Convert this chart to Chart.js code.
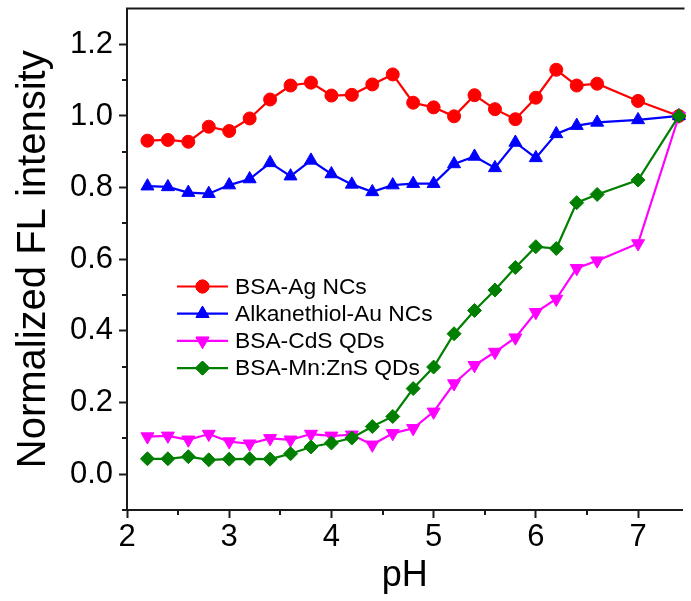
<!DOCTYPE html>
<html><head><meta charset="utf-8">
<script src="https://cdn.jsdelivr.net/npm/chart.js@4.4.0/dist/chart.umd.min.js"></script>
<style>html,body{margin:0;padding:0;background:#fff;}#wrap{width:691px;height:601px;}</style>
</head><body><div id="wrap"><canvas id="c" width="691" height="601"></canvas></div>
<script>
const phValues   = [2.2,2.4,2.6,2.8,3.0,3.2,3.4,3.6,3.8,4.0,4.2,4.4,4.6,4.8,5.0,5.2,5.4,5.6,5.8,6.0,6.2,6.4,6.6,7.0,7.4];
const bsaAgNCs   = [0.931,0.933,0.928,0.970,0.958,0.993,1.046,1.085,1.093,1.057,1.059,1.088,1.116,1.037,1.024,0.999,1.058,1.019,0.991,1.051,1.129,1.085,1.090,1.042,1.0];
const alkAuNCs   = [0.804,0.802,0.786,0.783,0.807,0.824,0.869,0.832,0.876,0.838,0.809,0.788,0.807,0.811,0.811,0.866,0.887,0.855,0.926,0.883,0.950,0.973,0.982,0.989,1.0];
const bsaCdSQDs  = [0.105,0.107,0.096,0.112,0.091,0.085,0.100,0.096,0.112,0.107,0.110,0.082,0.114,0.128,0.174,0.253,0.304,0.341,0.381,0.452,0.489,0.575,0.596,0.644,1.0];
const bsaMnZnSQDs= [0.043,0.043,0.049,0.040,0.042,0.043,0.042,0.057,0.076,0.087,0.101,0.133,0.161,0.239,0.299,0.392,0.457,0.514,0.577,0.635,0.630,0.758,0.781,0.821,1.0];
const seriesNames = ['BSA-Ag NCs','Alkanethiol-Au NCs','BSA-CdS QDs','BSA-Mn:ZnS QDs'];
const xTickLabels = ['2','3','4','5','6','7'];
const xMinorTicks = [2.5,3.5,4.5,5.5,6.5];
const yTickLabels = ['0.0','0.2','0.4','0.6','0.8','1.0','1.2'];
const yMinorTicks = [-0.1,0.1,0.3,0.5,0.7,0.9,1.1];

const FONT = "'Liberation Sans', Arial, Helvetica, sans-serif";
const AXIS = '#1a1a1a';
function pts(ys){ return phValues.map((x,i)=>({x:x, y:ys[i]})); }

const styles = [
  {color:'#ff0000', pointStyle:'circle',   radius:6.5, rotation:0},
  {color:'#0000ff', pointStyle:'triangle', radius:7.5, rotation:0},
  {color:'#ff00ff', pointStyle:'triangle', radius:7.5, rotation:180},
  {color:'#007f00', pointStyle:'rectRot',  radius:7,   rotation:0}
];
const seriesData = [bsaAgNCs, alkAuNCs, bsaCdSQDs, bsaMnZnSQDs];

const datasets = seriesData.map((d,i)=>({
  label: seriesNames[i],
  data: pts(d),
  borderColor: styles[i].color,
  backgroundColor: styles[i].color,
  pointBackgroundColor: styles[i].color,
  pointBorderColor: styles[i].color,
  pointBorderWidth: 1,
  borderWidth: 2.2,
  pointStyle: styles[i].pointStyle,
  pointRadius: styles[i].radius,
  pointRotation: styles[i].rotation,
  tension: 0,
  order: 3 - i,
  clip: 10
}));

function drawMarker(ctx, st, x, y){
  ctx.save();
  ctx.fillStyle = st.color; ctx.strokeStyle = st.color; ctx.lineWidth = 1;
  if (Chart.helpers && Chart.helpers.drawPoint) {
    Chart.helpers.drawPoint(ctx, {pointStyle: st.pointStyle, rotation: st.rotation, radius: st.radius, borderWidth: 1}, x, y);
    ctx.fill(); ctx.stroke();
  } else {
    ctx.beginPath(); ctx.arc(x,y,st.radius,0,Math.PI*2); ctx.fill();
  }
  ctx.restore();
}

const extras = {
  id: 'extras',
  afterDraw(chart){
    const ctx = chart.ctx, a = chart.chartArea;
    const xs = chart.scales.x, ys = chart.scales.y;
    ctx.save();
    ctx.strokeStyle = AXIS; ctx.lineWidth = 2;
    ctx.beginPath(); ctx.moveTo(a.left-1, a.top); ctx.lineTo(a.right+2, a.top); ctx.stroke();
    ctx.beginPath();
    xMinorTicks.forEach(v=>{ const px = Math.round(xs.getPixelForValue(v)); ctx.moveTo(px, a.bottom); ctx.lineTo(px, a.bottom+5); });
    yMinorTicks.forEach(v=>{ const py = Math.round(ys.getPixelForValue(v)); ctx.moveTo(a.left, py); ctx.lineTo(a.left-5, py); });
    ctx.stroke();
    // legend
    const lx0 = a.left + 50, lx1 = a.left + 101, tx = a.left + 108;
    const rowTop = a.top + 278, rowGap = 27.2;
    ctx.font = "22.8px " + FONT; ctx.textBaseline = 'middle'; ctx.textAlign = 'left';
    seriesNames.forEach((name,i)=>{
      const y = rowTop + i*rowGap;
      ctx.strokeStyle = styles[i].color; ctx.lineWidth = 2.2;
      ctx.beginPath(); ctx.moveTo(lx0, y); ctx.lineTo(lx1, y); ctx.stroke();
      drawMarker(ctx, styles[i], (lx0+lx1)/2, y);
      ctx.fillStyle = '#000';
      ctx.fillText(name, tx, y+1);
    });
    ctx.restore();
  }
};

new Chart(document.getElementById('c'), {
  type: 'line',
  data: { datasets: datasets },
  plugins: [extras],
  options: {
    responsive: false, animation: false, devicePixelRatio: 1,
    layout: { padding: { top: 7, right: 0, left: 0, bottom: 0 } },
    plugins: { legend: { display: false }, tooltip: { enabled: false } },
    scales: {
      x: {
        type: 'linear', min: 2, max: 7.435,
        afterBuildTicks: s => { s.ticks = xTickLabels.map(t=>({value: Number(t)})); },
        afterFit: s => { s.height = 91; s.paddingLeft = 0; s.paddingRight = 0; },
        ticks: { autoSkip: false, maxRotation: 0, padding: 1, color: '#000',
                 font: { size: 31, family: FONT },
                 callback: (v) => { const k = xTickLabels.indexOf(String(Math.round(v))); return k >= 0 ? xTickLabels[k] : ''; } },
        grid: { drawOnChartArea: false, drawTicks: true, tickLength: 8, tickWidth: 2, tickColor: AXIS },
        border: { display: true, color: AXIS, width: 2 },
        title: { display: true, text: 'pH', color: '#000', font: { size: 36, family: FONT }, padding: { top: 0, bottom: 3 } }
      },
      y: {
        type: 'linear', min: -0.1, max: 1.3,
        afterBuildTicks: s => { s.ticks = yTickLabels.map(t=>({value: Number(t)})); },
        afterFit: s => { s.width = 127; s.paddingTop = 0; s.paddingBottom = 0; },
        ticks: { autoSkip: false, padding: 6, color: '#000',
                 font: { size: 31, family: FONT },
                 callback: (v) => (Math.round(v*10)/10).toFixed(1) },
        grid: { drawOnChartArea: false, drawTicks: true, tickLength: 8, tickWidth: 2, tickColor: AXIS },
        border: { display: true, color: AXIS, width: 2 },
        title: { display: true, text: 'Normalized FL intensity', color: '#000', font: { size: 40, family: FONT }, padding: { top: 10, bottom: 0 } }
      }
    }
  }
});
</script></body></html>
